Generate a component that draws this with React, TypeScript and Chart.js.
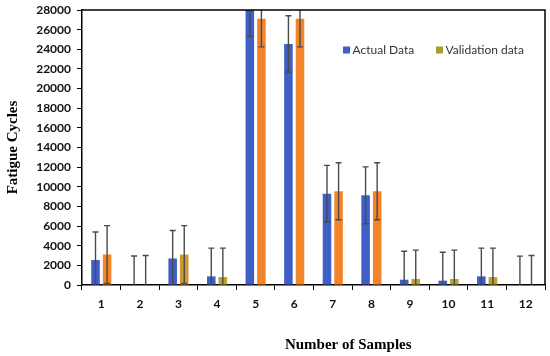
import React, { useEffect, useRef } from "react";
import { Chart, registerables } from "chart.js";

Chart.register(...registerables);

const categories = ["1", "2", "3", "4", "5", "6", "7", "8", "9", "10", "11", "12"];
const actualData = [2550, 0, 2700, 880, 28200, 24550, 9300, 9130, 540, 440, 880, 0];
const actualError = [2850, 2950, 2850, 2870, 2900, 2860, 2880, 2900, 2900, 2900, 2870, 2940];
const validationData = [3100, 0, 3100, 810, 27100, 27100, 9540, 9540, 610, 610, 810, 0];
const validationError = [2950, 3000, 2950, 2940, 2850, 2850, 2900, 2900, 2940, 2940, 2940, 3010];
const yTicksMax = 28000;
const yTicksStep = 2000;
const seriesLabels = ["Actual Data", "Validation data"];
const xTitle = "Number of Samples";
const yTitle = "Fatigue Cycles";

const BLUE = "#3F5EC6";
const ORANGE = "#F4842A";
const OLIVE = "#B9A12E";
const OLIVE_ORANGE = "#CF9830";
const validationColors = [ORANGE, ORANGE, OLIVE_ORANGE, OLIVE, ORANGE, ORANGE, ORANGE, ORANGE, OLIVE, OLIVE, OLIVE, OLIVE];
const legendColors = [BLUE, "#A99C2C"];
const errors = [actualError, validationError];

const errorBarPlugin = {
  id: "errorBars",
  afterDatasetsDraw(chart: any) {
    const { ctx, chartArea, scales } = chart;
    const y = scales.y;
    ctx.save();
    ctx.beginPath();
    ctx.rect(chartArea.left, chartArea.top, chartArea.right - chartArea.left, chartArea.bottom - chartArea.top);
    ctx.clip();
    ctx.strokeStyle = "#4a4a4a";
    ctx.lineWidth = 1.4;
    chart.data.datasets.forEach((ds: any, di: number) => {
      const meta = chart.getDatasetMeta(di);
      meta.data.forEach((el: any, i: number) => {
        const v = ds.data[i];
        const e = errors[di][i];
        const x = el.x;
        const yTop = y.getPixelForValue(v + e);
        const yBot = y.getPixelForValue(v - e);
        ctx.beginPath();
        ctx.moveTo(x, yTop);
        ctx.lineTo(x, yBot);
        ctx.moveTo(x - 3, yTop);
        ctx.lineTo(x + 3, yTop);
        ctx.moveTo(x - 3, yBot);
        ctx.lineTo(x + 3, yBot);
        ctx.stroke();
      });
    });
    ctx.restore();
  },
};

const frameLegendPlugin = {
  id: "frameLegend",
  afterDraw(chart: any) {
    const { ctx, chartArea } = chart;
    ctx.save();
    ctx.strokeStyle = "#000";
    ctx.lineWidth = 1.5;
    ctx.beginPath();
    ctx.moveTo(chartArea.left, chartArea.top);
    ctx.lineTo(chartArea.right, chartArea.top);
    ctx.lineTo(chartArea.right, chartArea.bottom);
    ctx.stroke();

    const ly = chartArea.top + 40;
    const positions = [chartArea.right - 202, chartArea.right - 109];
    ctx.font = "12px Lato";
    ctx.textBaseline = "middle";
    ctx.textAlign = "left";
    seriesLabels.forEach((label, i) => {
      ctx.fillStyle = legendColors[i];
      ctx.fillRect(positions[i], ly - 3.5, 7, 7);
      ctx.fillStyle = "#333";
      ctx.fillText(label, positions[i] + 9.5, ly);
    });

    ctx.fillStyle = "#000";
    ctx.font = "bold 15px 'Liberation Serif'";
    ctx.textAlign = "center";
    ctx.fillText(xTitle, chartArea.left + (chartArea.right - chartArea.left) * 0.575, 345);
    ctx.restore();
  },
};

export default function App() {
  const canvasRef = useRef<HTMLCanvasElement | null>(null);

  useEffect(() => {
    if (!canvasRef.current) return;
    const chart = new Chart(canvasRef.current, {
      type: "bar",
      data: {
        labels: categories,
        datasets: [
          {
            label: seriesLabels[0],
            data: actualData,
            backgroundColor: BLUE,
            categoryPercentage: 0.6,
            barPercentage: 0.74,
          },
          {
            label: seriesLabels[1],
            data: validationData,
            backgroundColor: validationColors,
            categoryPercentage: 0.6,
            barPercentage: 0.74,
          },
        ],
      },
      options: {
        responsive: false,
        animation: false,
        layout: { padding: { left: 0, top: 10, right: 5, bottom: 0 } },
        plugins: {
          legend: { display: false },
          tooltip: { enabled: false },
        },
        scales: {
          x: {
            grid: {
              display: true,
              drawOnChartArea: false,
              drawTicks: true,
              tickLength: 5,
              color: "#000",
              offset: true,
            },
            border: { display: true, color: "#000", width: 1.5 },
            ticks: {
              color: "#111",
              font: { family: "Lato", weight: "bold", size: 12 },
              padding: 7,
            },
            afterFit(scale: any) {
              scale.height = 71;
            },
          },
          y: {
            min: 0,
            max: yTicksMax,
            ticks: {
              stepSize: yTicksStep,
              color: "#111",
              font: { family: "Lato", weight: "bold", size: 12 },
              padding: 6,
              callback: (v: any) => String(v),
            },
            grid: {
              display: true,
              drawOnChartArea: false,
              drawTicks: true,
              tickLength: 5,
              color: "#000",
            },
            border: { display: true, color: "#000", width: 1.5 },
            title: {
              display: true,
              text: yTitle,
              color: "#000",
              font: { family: "Liberation Serif", weight: "bold", size: 15 },
              padding: { top: 4, bottom: 0 },
            },
            afterFit(scale: any) {
              scale.width = 82;
              scale.paddingTop = 0;
              scale.paddingBottom = 0;
            },
          },
        },
      },
      plugins: [errorBarPlugin, frameLegendPlugin],
    });
    return () => chart.destroy();
  }, []);

  return (
    <div style={{ position: "fixed", left: 0, top: 0, width: 550, height: 356, background: "#fff" }}>
      <canvas ref={canvasRef} width={550} height={356} />
    </div>
  );
}
